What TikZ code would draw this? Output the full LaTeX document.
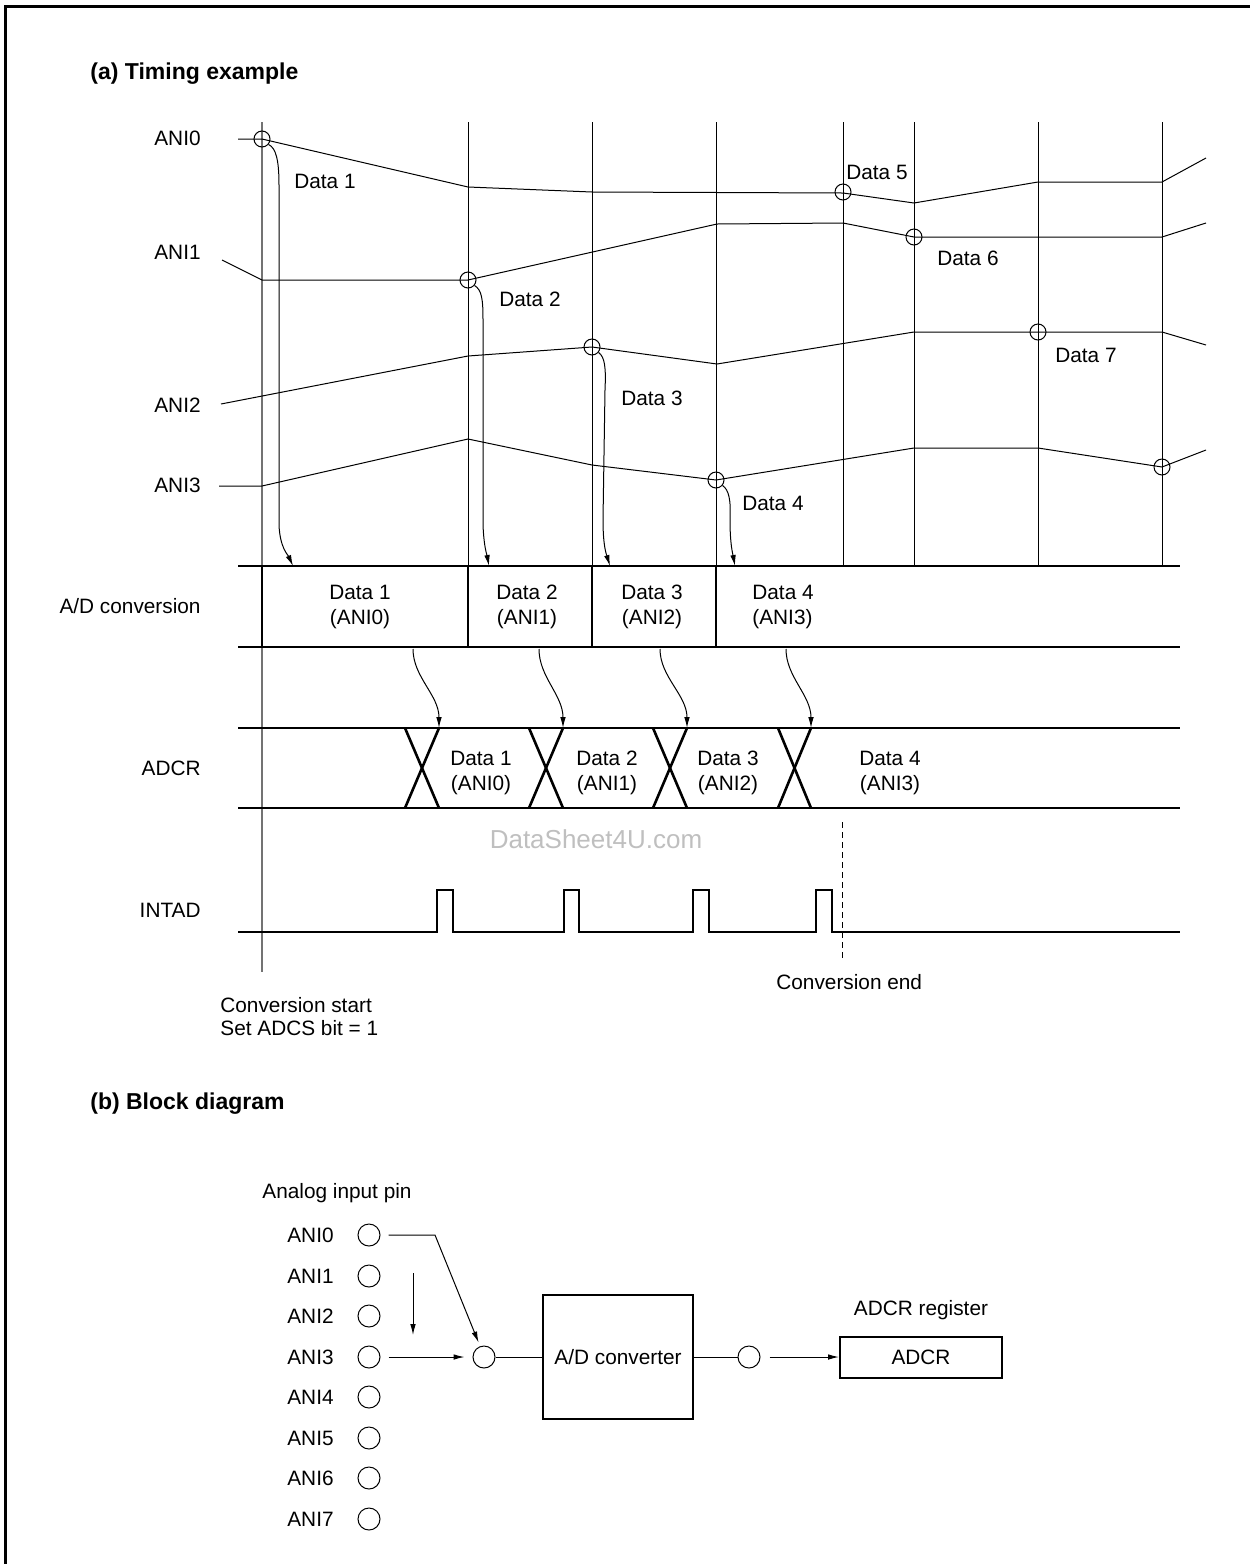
\documentclass[tikz,border=0pt]{standalone}
\usepackage{fontspec}
\setmainfont{Liberation Sans}
\usetikzlibrary{arrows.meta}
\begin{document}
\begin{tikzpicture}[x=0.5pt,y=-0.5pt,
  every node/.style={font=\fontsize{10.4}{12.5}\selectfont, inner sep=0pt},
  thin/.style={line width=0.5pt},
  band/.style={line width=1.3pt, line join=miter},
  arr/.style={thin,-{Latex[length=5.5pt,width=2.8pt]}},
  samp/.style={circle,draw,thin,minimum size=8pt,inner sep=0pt},
  pin/.style={circle,draw,thin,minimum size=11pt,inner sep=0pt},
  title/.style={font=\fontsize{11.5}{14}\selectfont\bfseries, anchor=west},
  sig/.style={anchor=east},
  twoline/.style={align=center, font=\fontsize{10.4}{12.5}\selectfont},
]
\useasboundingbox (0,0) rectangle (1250,1564);
% frame
\draw[line width=1.5pt] (5,1564) -- (5,6) -- (1250,6);

% titles
\node[title] (ta) at (90,74) {(a) Timing example};
\node[title] (tb) at (90,1104) {(b) Block diagram};

% signal labels
\node[sig] (l0) at (201,138) {ANI0};
\node[sig] (l1) at (201,252) {ANI1};
\node[sig] (l2) at (201,405) {ANI2};
\node[sig] (l3) at (201,485) {ANI3};
\node[sig] (lad) at (201,606) {A/D conversion};
\node[sig] (ladcr) at (201,768) {ADCR};
\node[sig] (lint) at (201,910) {INTAD};

% grid verticals
\draw[line width=0.6pt, black!55] (262,122) -- (262,972);
\foreach \x in {468,592,716,843,914,1038,1162} \draw[thin] (\x,122) -- (\x,566);

% analog signals
\draw[thin] (238,139) -- (262,139) -- (468,187) -- (592,192) -- (843,193) -- (914,203) -- (1038,182) -- (1162,182) -- (1206,158);
\draw[thin] (222,260) -- (262,280) -- (468,280) -- (717,224) -- (843,223) -- (914,237) -- (1162,237) -- (1206,223);
\draw[thin] (221,404) -- (468,356) -- (592,347) -- (717,364) -- (914,332) -- (1162,332) -- (1206,345);
\draw[thin] (219,486) -- (262,486) -- (468,439) -- (592,465) -- (716,480) -- (914,448) -- (1038,448) -- (1162,467) -- (1206,450);

% sample points
\node[samp] (s1) at (262,139) {};
\node[samp] (s2) at (468,280) {};
\node[samp] (s3) at (592,347) {};
\node[samp] (s4) at (716,480) {};
\node[samp] (s5) at (843,192) {};
\node[samp] (s6) at (914,237) {};
\node[samp] (s7) at (1038,332) {};
\node[samp] (s8) at (1162,467) {};

% data labels
\node (d1) at (325,181) {Data 1};
\node (d2) at (530,299) {Data 2};
\node (d3) at (652,398) {Data 3};
\node (d4) at (773,503) {Data 4};
\node (d5) at (877,172) {Data 5};
\node (d6) at (968,258) {Data 6};
\node (d7) at (1086,355) {Data 7};

% sample-to-conversion arrows
\coordinate (t1) at (293,566);
\coordinate (t2) at (489,566);
\coordinate (t3) at (610,566);
\coordinate (t4) at (735,566);
\draw[arr] (s1.-40) .. controls (276,148) and (279,160) .. (279,185) -- (279,525) .. controls (280,548) and (288,555) .. (t1);
\draw[arr] (s2.-40) .. controls (482,290) and (483,300) .. (483,320) -- (483,525) .. controls (484,548) and (487,555) .. (t2);
\draw[arr] (s3.-40) .. controls (605,357) and (606,368) .. (605,390) -- (603,520) .. controls (603,548) and (607,556) .. (t3);
\draw[arr] (s4.-40) .. controls (729,490) and (731,500) .. (730,520) .. controls (730,545) and (733,555) .. (t4);

% A/D conversion band
\draw[band] (238,566) -- (1180,566);
\draw[band] (238,647) -- (1180,647);
\foreach \x in {262,468,592,716} \draw[band] (\x,566) -- (\x,647);
\node[twoline] (ad1) at (360,607) {Data 1\\(ANI0)};
\node[twoline] (ad2) at (527,607) {Data 2\\(ANI1)};
\node[twoline] (ad3) at (652,607) {Data 3\\(ANI2)};
\node[twoline, align=left, anchor=west] (ad4) at (752,607) {Data 4\\(ANI3)};

% ADCR band
\draw[band] (238,728) -- (1180,728);
\draw[band] (238,808) -- (1180,808);
\foreach \a/\b in {405/439,529/563,653/687,778/811} {
  \draw[band] (\a,728) -- (\b,808);
  \draw[band] (\b,728) -- (\a,808);
}
\node[twoline] (r1) at (481,773) {Data 1\\(ANI0)};
\node[twoline] (r2) at (607,773) {Data 2\\(ANI1)};
\node[twoline] (r3) at (728,773) {Data 3\\(ANI2)};
\node[twoline] (r4) at (890,773) {Data 4\\(ANI3)};

% conversion-to-register arrows
\coordinate (a1) at (413,649); \coordinate (b1) at (439,728);
\coordinate (a2) at (539,649); \coordinate (b2) at (563,728);
\coordinate (a3) at (660,649); \coordinate (b3) at (687,728);
\coordinate (a4) at (786,649); \coordinate (b4) at (811,728);
\draw[arr] (a1) .. controls (413,677) and (439,695) .. (b1);
\draw[arr] (a2) .. controls (539,677) and (563,695) .. (b2);
\draw[arr] (a3) .. controls (660,677) and (687,695) .. (b3);
\draw[arr] (a4) .. controls (786,677) and (811,695) .. (b4);

% INTAD
\draw[band] (238,932) -- (437,932) -- (437,890) -- (453,890) -- (453,932)
  -- (564,932) -- (564,890) -- (579,890) -- (579,932)
  -- (693,932) -- (693,890) -- (709,890) -- (709,932)
  -- (816,932) -- (816,890) -- (832,890) -- (832,932) -- (1180,932);
\draw[thin, dash pattern=on 3pt off 2pt] (842,822) -- (842,960);

\node[text=black!25, font=\fontsize{13}{15}\selectfont] (wm) at (596,839) {DataSheet4U.com};

\node[anchor=west] (cs1) at (220,1005) {Conversion start};
\node[anchor=west] (cs2) at (220,1028) {Set ADCS bit = 1};
\node[anchor=west] (ce) at (776,982) {Conversion end};

% block diagram
\node[anchor=west] (aip) at (262,1193) {Analog input pin};
\foreach \i/\y in {0/1235,1/1276,2/1316,3/1357,4/1397,5/1438,6/1478,7/1519} {
  \node[pin] (p\i) at (369,\y) {};
  \node[anchor=east] (n\i) at (334,\y) {ANI\i};
}
\node[pin] (mx) at (484,1357) {};
\node[draw, line width=1pt, minimum width=75pt, minimum height=62pt] (conv) at (618,1357) {A/D converter};
\node[pin] (oc) at (749,1357) {};
\node[draw, line width=1pt, minimum width=81pt, minimum height=20.5pt] (reg) at (921,1357) {ADCR};
\node (regl) at (921,1310) {ADCR register};

\coordinate (k0) at (435,1235);
\draw[arr, shorten >=2pt] ([xshift=4pt]p0.east) -- (k0) -- (mx.110);
\draw[arr, shorten >=4pt] ([xshift=4pt]p3.east) -- (mx.west);
\coordinate (vA) at (413,1273);
\coordinate (vB) at (413,1335);
\draw[arr] (vA) -- (vB);
\draw[thin] (mx.east) -- (conv.west);
\draw[thin] (conv.east) -- (oc.west);
\draw[arr] ([xshift=4.5pt]oc.east) -- (reg.west);
\end{tikzpicture}
\end{document}
